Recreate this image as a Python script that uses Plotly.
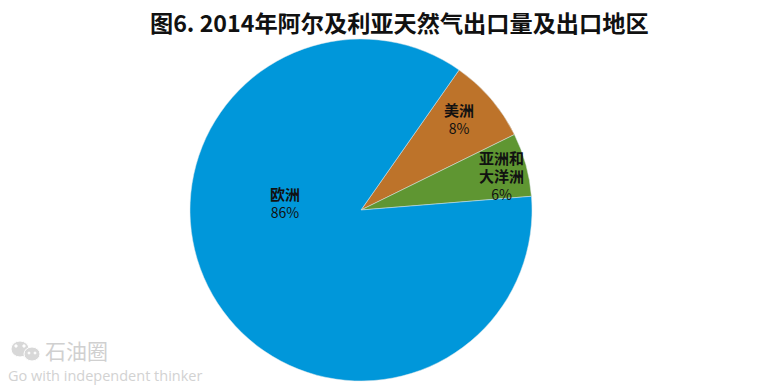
import plotly.graph_objects as go

TITLE = "图6. 2014年阿尔及利亚天然气出口量及出口地区"
regions = ["美洲", "亚洲和<br>大洋洲", "欧洲"]
shares = [8, 6, 86]
colors = ["#BD732A", "#5F9632", "#0097DA"]
label_xy = [(459, 118.5), (501, 175.5), (284.5, 202)]
CJK = "Noto Sans CJK SC"
W, H = 775, 387

fig = go.Figure(go.Pie(
    labels=regions, values=shares, sort=False, direction="clockwise", rotation=35,
    marker=dict(colors=colors, line=dict(color="#DDE6EA", width=0.5)),
    textinfo="none", hoverinfo="label+percent", showlegend=False,
    domain=dict(x=[190 / W, 532 / W], y=[6 / H, 348 / H]),
))

annotations = []
for name, share, (px, py) in zip(regions, shares, label_xy):
    annotations.append(dict(
        x=px / W, y=1 - py / H, xref="paper", yref="paper", showarrow=False,
        xanchor="center", yanchor="middle", align="center", borderpad=0,
        text=f"<span style='font-size:15px'><b>{name}</b></span><br>{share}%",
        font=dict(family=CJK, size=14, color="#111111"),
    ))
annotations.append(dict(
    x=399.5 / W, y=1 - 22 / H, xref="paper", yref="paper", showarrow=False,
    xanchor="center", yanchor="middle", text=f"<b>{TITLE}</b>",
    font=dict(family=CJK, size=23.2, color="#111111"),
))
annotations.append(dict(
    x=44 / W, y=1 - 349.5 / H, xref="paper", yref="paper", showarrow=False,
    xanchor="left", yanchor="middle", text="石油圈", borderpad=0,
    font=dict(family=CJK, size=21, color="#D0D0D0"),
))
annotations.append(dict(
    x=7 / W, y=1 - 375 / H, xref="paper", yref="paper", showarrow=False,
    xanchor="left", yanchor="middle", text="Go with independent thinker", borderpad=0,
    font=dict(family="Open Sans", size=14.5, color="#D2D2D2"),
))

def circle(cx, cy, rx, ry, color):
    return dict(type="circle", xref="paper", yref="paper",
                x0=(cx - rx) / W, x1=(cx + rx) / W,
                y0=1 - (cy + ry) / H, y1=1 - (cy - ry) / H,
                fillcolor=color, line=dict(color="white", width=1))

shapes = [circle(20, 349, 9, 8, "#D8D8D8"), circle(32, 354, 8, 7, "#D8D8D8"),
          circle(16, 346, 1.2, 1.2, "#FFFFFF"), circle(24, 346, 1.2, 1.2, "#FFFFFF"),
          circle(29, 353, 1, 1, "#FFFFFF"), circle(35, 353, 1, 1, "#FFFFFF")]

fig.update_layout(
    width=W, height=H, margin=dict(l=0, r=0, t=0, b=0),
    paper_bgcolor="white", plot_bgcolor="white",
    annotations=annotations, shapes=shapes,
)
fig.write_html("out.html", config={"displayModeBar": False},
               post_script="document.body.style.margin='0';document.documentElement.style.overflow='hidden';")
